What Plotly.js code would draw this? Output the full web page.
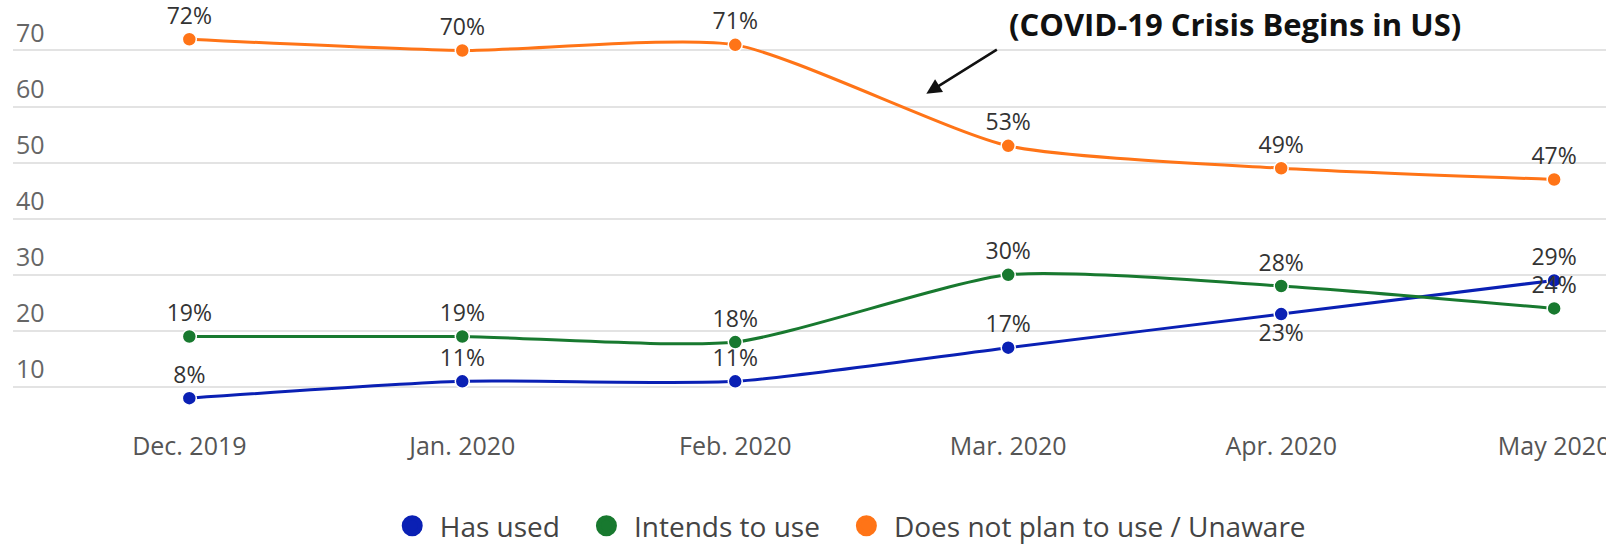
<!DOCTYPE html>
<html>
<head>
<meta charset="utf-8">
<script src="https://cdn.plot.ly/plotly-3.0.1.min.js"></script>
<style>html,body{margin:0;padding:0;background:#fff;}#chart{width:1606px;height:547px;}</style>
</head>
<body>
<div id="chart"></div>
<script>
var categories = ["Dec. 2019", "Jan. 2020", "Feb. 2020", "Mar. 2020", "Apr. 2020", "May 2020"];
var hasUsed = [8, 11, 11, 17, 23, 29];
var intendsToUse = [19, 19, 18, 30, 28, 24];
var doesNotPlan = [72, 70, 71, 53, 49, 47];
var seriesNames = ["Has used", "Intends to use", "Does not plan to use / Unaware"];
var colors = ["#0a20b4", "#18792f", "#ff7417"];
var yTicks = [10, 20, 30, 40, 50, 60, 70];

var allSeries = [hasUsed, intendsToUse, doesNotPlan];
var textPositions = [
  ["top center", "top center", "top center", "top center", "bottom center", "top center"],
  ["top center", "top center", "top center", "top center", "top center", "top center"],
  ["top center", "top center", "top center", "top center", "top center", "top center"]
];

var traces = [];
allSeries.forEach(function (vals, i) {
  traces.push({
    x: categories,
    y: vals,
    type: "scatter",
    mode: "lines+markers+text",
    name: seriesNames[i],
    showlegend: false,
    line: {color: colors[i], width: 3, shape: "spline", smoothing: 0.6},
    marker: {color: colors[i], size: 14, line: {color: "#ffffff", width: 1.5}},
    text: vals.map(function (v) { return v + "%"; }),
    textposition: textPositions[i],
    textfont: {family: "Open Sans", size: 23, color: "#333333"},
    cliponaxis: false,
    hoverinfo: "x+y"
  });
});
seriesNames.forEach(function (n, i) {
  traces.push({
    x: [categories[0]],
    y: [null],
    type: "scatter",
    mode: "markers",
    name: n + (i < seriesNames.length - 1 ? "\u2002" : ""),
    showlegend: true,
    marker: {color: colors[i], size: 16, line: {color: colors[i], width: 5}}
  });
});

var layout = {
  width: 1606,
  height: 547,
  margin: {l: 13, r: 0, t: 0, b: 132, autoexpand: false},
  paper_bgcolor: "#ffffff",
  plot_bgcolor: "#ffffff",
  font: {family: "Open Sans", color: "#555555"},
  showlegend: true,
  legend: {
    orientation: "h",
    x: 0.524, xanchor: "center",
    y: -0.2675, yanchor: "middle",
    font: {family: "Open Sans", size: 28, color: "#444444"},
    itemsizing: "trace",
    itemwidth: 45,
    tracegroupgap: 0
  },
  xaxis: {
    type: "category",
    range: [-0.646, 5.19],
    showgrid: false,
    zeroline: false,
    showline: false,
    automargin: false,
    ticks: "outside",
    ticklen: 9,
    tickcolor: "rgba(0,0,0,0)",
    tickfont: {family: "Open Sans", size: 25, color: "#555555"}
  },
  yaxis: {
    range: [5, 79],
    tickvals: yTicks,
    ticktext: yTicks.map(String),
    ticklabelposition: "inside top",
    showgrid: true,
    gridcolor: "#e3e3e3",
    gridwidth: 1.5,
    zeroline: false,
    showline: false,
    automargin: false,
    tickfont: {family: "Open Sans", size: 25, color: "#666666"}
  },
  annotations: [
    {
      x: 2.70, y: 62.3, xref: "x", yref: "y",
      text: "", showarrow: true,
      ax: 72, ay: -45,
      arrowhead: 2, arrowsize: 1.2, arrowwidth: 2.5, arrowcolor: "#111111"
    },
    {
      x: 3.83, y: 74.8, xref: "x", yref: "y",
      text: "<b>(COVID-19 Crisis Begins in US)</b>",
      showarrow: false,
      font: {family: "Open Sans", size: 31, color: "#111111"}
    }
  ]
};

Plotly.newPlot("chart", traces, layout, {displayModeBar: false, responsive: false});
</script>
</body>
</html>
